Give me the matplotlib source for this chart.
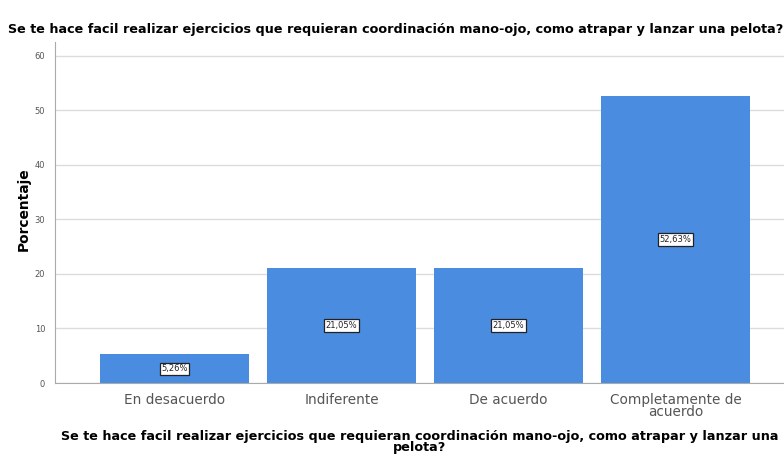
import matplotlib.pyplot as plt

# datos
categorias = ['En desacuerdo', 'Indiferente', 'De acuerdo', 'Completamente de\nacuerdo']
porcentajes = [5.26, 21.05, 21.05, 52.63]
etiquetas = ['5,26%', '21,05%', '21,05%', '52,63%']
y_ticks = [0, 10, 20, 30, 40, 50, 60]

titulo = 'Se te hace facil realizar ejercicios que requieran coordinación mano-ojo, como atrapar y lanzar una pelota?'
xlabel = 'Se te hace facil realizar ejercicios que requieran coordinación mano-ojo, como atrapar y lanzar una\npelota?'

plt.rcParams['font.family'] = ['DejaVu Sans']

fig = plt.figure(figsize=(7.84, 4.66), dpi=100)
ax = fig.add_axes([0.070, 0.178, 0.93, 0.732])

x = range(len(categorias))
bars = ax.bar(x, porcentajes, width=0.89, color='#4a8ce0', zorder=2)

for b, t in zip(bars, etiquetas):
    ax.text(b.get_x() + b.get_width() / 2, b.get_height() / 2, t,
            ha='center', va='center', fontsize=6, color='#222222', zorder=3,
            bbox=dict(boxstyle='square,pad=0.2', fc='white', ec='#222222', lw=0.9))

ax.set_ylim(0, 62.5)
ax.set_xlim(-0.716, 3.65)
ax.set_yticks(y_ticks)
ax.set_yticklabels([str(v) for v in y_ticks], fontsize=6, color='#555555')
ax.set_xticks(list(x))
ax.set_xticklabels(categorias, fontsize=9.8, color='#555555', linespacing=0.85)
ax.tick_params(axis='x', length=0, pad=7)
ax.tick_params(axis='y', length=0, pad=7)

ax.grid(axis='y', color='#dcdcdc', lw=1, zorder=0)
for s in ['top', 'right']:
    ax.spines[s].set_visible(False)
ax.spines['left'].set_color('#aaaaaa')
ax.spines['bottom'].set_color('#aaaaaa')

ax.set_ylabel('Porcentaje', fontsize=9.9, fontweight='bold')
ax.yaxis.set_label_coords(-0.033, 0.51)
ax.set_xlabel(xlabel, fontsize=9.2, fontweight='bold', labelpad=8, linespacing=0.8)
fig.text(0.505, 0.937, titulo, ha='center', va='center', fontsize=9.15, fontweight='bold')

fig.savefig('out.png', dpi=100)
